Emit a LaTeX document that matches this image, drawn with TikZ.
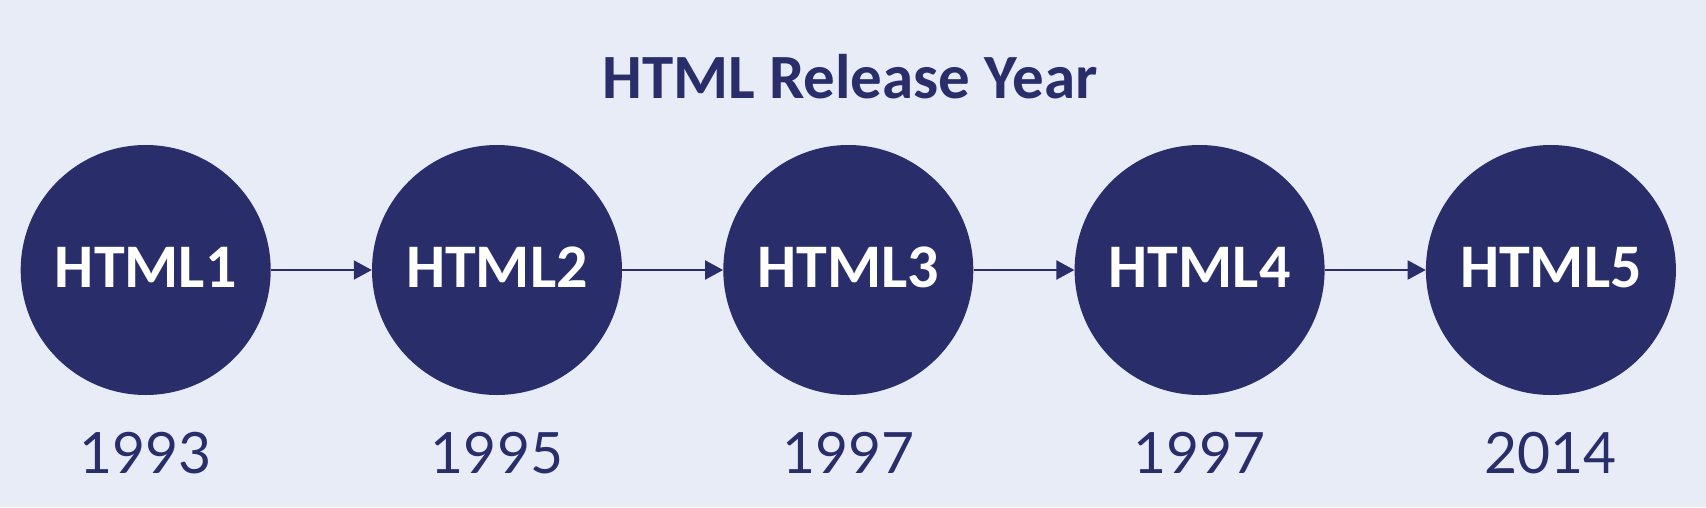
\documentclass[tikz,border=0pt]{standalone}
\usepackage{fontspec}
\setmainfont{Carlito}
\newfontfamily\digitfont{Lato}
\usetikzlibrary{arrows.meta}
\definecolor{navy}{RGB}{41,46,107}
\definecolor{bgc}{RGB}{232,236,246}
\tikzset{
  ball/.style={circle,fill=navy,minimum size=250pt,inner sep=0pt,text=white},
  balltext/.style={text=white,inner sep=0pt,anchor=base,font=\fontsize{62}{64}\selectfont\bfseries},
  yearlbl/.style={text=navy,font=\digitfont\fontsize{57}{58}\selectfont,inner sep=0pt,anchor=base},
  link/.style={draw=navy,line width=2pt,-{Triangle[length=18pt,width=19pt]}}
}
\begin{document}
\begin{tikzpicture}[x=1pt,y=-1pt]
\fill[bgc] (0,0) rectangle (1706,507);
\useasboundingbox (0,0) rectangle (1706,507);
\node[text=navy,font=\fontsize{63}{64}\selectfont\bfseries,inner sep=0pt,anchor=base] (title) at (850,98) {HTML Release Year};
\foreach \i/\yr in {1/1993,2/1995,3/1997,4/1997,5/2014}{
  \node[ball] (c\i) at ({145.7+351.3*(\i-1)},270) {};
  \node[balltext] (t\i) at ({145.7+351.3*(\i-1)},287) {HTML\i};
  \node[yearlbl] (y\i) at ({145.7+351.3*(\i-1)},473) {\yr};
}
\foreach \a/\b in {1/2,2/3,3/4,4/5}{
  \draw[link] (c\a.east) -- (c\b.west);
}
\end{tikzpicture}
\end{document}
